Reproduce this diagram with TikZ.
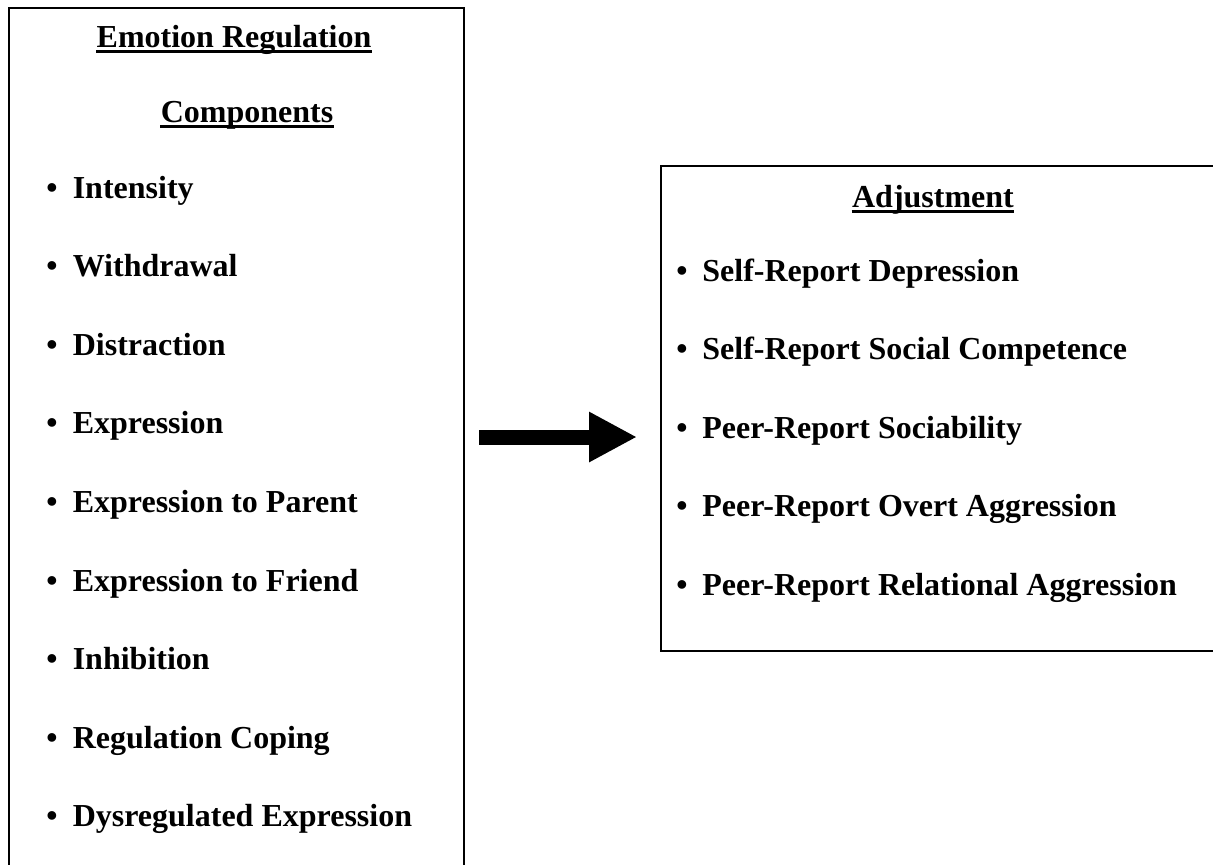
\documentclass[tikz,border=0pt]{standalone}
\usepackage{fontspec}
\setmainfont{Liberation Serif}
\usetikzlibrary{arrows.meta}
\begin{document}
\begin{tikzpicture}[x=0.5pt,y=-0.5pt,
  panel/.style={draw, line width=1pt, inner sep=0, anchor=north west},
  txt/.style={inner sep=0, font=\fontsize{16}{19}\selectfont\bfseries},
  item/.style={txt, anchor=base west},
  ttl/.style={txt, anchor=base},
  uline/.style={line width=1.25pt},
  bigarrow/.style={line width=7.5pt, -{Triangle[length=24pt,width=23.5pt]},
    shorten <=7pt, shorten >=11.5pt}]
\clip (0,0) rectangle (1213,864);
\fill[white] (0,0) rectangle (1213,864);

% boxes
\node (L) [panel, minimum width=227.5pt, minimum height=446pt] at (8,7) {};
\node (R) [panel, minimum width=278pt, minimum height=242.5pt] at (660,165) {};

% left titles
\node (t1) [ttl] at (234,47) {Emotion Regulation};
\node (t2) [ttl] at (247,122) {Components};
\draw[uline] ([yshift=-2.2pt]t1.base west) -- ([yshift=-2.2pt]t1.base east);
\draw[uline] ([yshift=-2.2pt]t2.base west) -- ([yshift=-2.2pt]t2.base east);

% left items
\node (l1) [item] at (46,198)   {\textbullet\hspace{7.6pt}Intensity};
\node (l2) [item] at (46,276.6) {\textbullet\hspace{7.6pt}Withdrawal};
\node (l3) [item] at (46,355.2) {\textbullet\hspace{7.6pt}Distraction};
\node (l4) [item] at (46,433.8) {\textbullet\hspace{7.6pt}Expression};
\node (l5) [item] at (46,512.4) {\textbullet\hspace{7.6pt}Expression to Parent};
\node (l6) [item] at (46,591)   {\textbullet\hspace{7.6pt}Expression to Friend};
\node (l7) [item] at (46,669.6) {\textbullet\hspace{7.6pt}Inhibition};
\node (l8) [item] at (46,748.2) {\textbullet\hspace{7.6pt}Regulation Coping};
\node (l9) [item] at (46,826.8) {\textbullet\hspace{7.6pt}Dysregulated Expression};

% right title
\node (t3) [ttl] at (933,207) {Adjustment};
\draw[uline] ([yshift=-2.2pt]t3.base west) -- ([yshift=-2.2pt]t3.base east);

% right items
\node (r1) [item] at (676,281) {\textbullet\hspace{7.4pt}Self-Report Depression};
\node (r2) [item] at (676,359.5) {\textbullet\hspace{7.4pt}Self-Report Social Competence};
\node (r3) [item] at (676,438) {\textbullet\hspace{7.4pt}Peer-Report Sociability};
\node (r4) [item] at (676,516.5) {\textbullet\hspace{7.4pt}Peer-Report Overt Aggression};
\node (r5) [item] at (676,595) {\textbullet\hspace{7.4pt}Peer-Report Relational Aggression};

% arrow
\coordinate (ay) at (0,437);
\draw[bigarrow] (L.east |- ay) -- (R.west |- ay);
\end{tikzpicture}
\end{document}
